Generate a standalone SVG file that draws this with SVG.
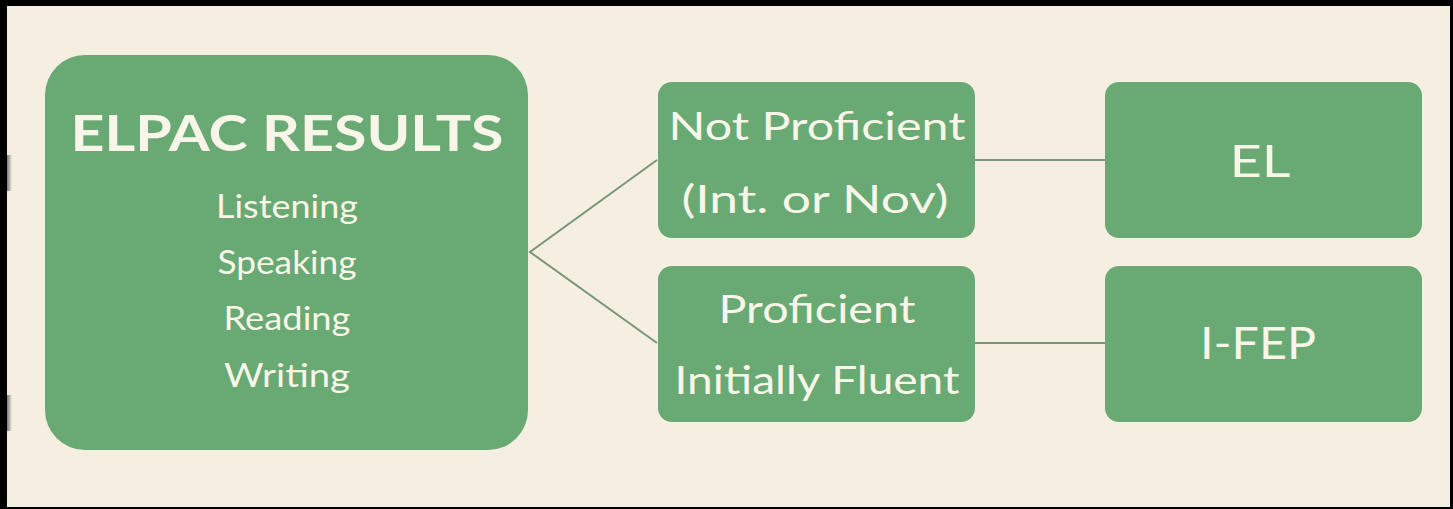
<svg xmlns="http://www.w3.org/2000/svg" width="1453" height="509" viewBox="0 0 1453 509">
  <defs>
    <linearGradient id="smudge" x1="0" y1="0" x2="1" y2="0">
      <stop offset="0" stop-color="#000" stop-opacity="0.5"/>
      <stop offset="1" stop-color="#000" stop-opacity="0"/>
    </linearGradient>
  </defs>
  <style>
    .box { fill: #69a974; }
    .t { fill: #f8f6e8; font-family: Lato, "Open Sans", "Liberation Sans", sans-serif; text-anchor: middle; }
    .title { font-weight: bold; font-size: 49px; }
    .sub { font-size: 33px; }
    .mid { font-size: 39px; }
    .big { font-size: 44px; }
    .conn { stroke: #7a9677; stroke-width: 2; fill: none; }
  </style>
  <rect x="0" y="0" width="1453" height="509" fill="#000"/>
  <rect x="7" y="6" width="1443" height="501" fill="#f5efe1"/>
  <rect x="7" y="155" width="5" height="36" fill="url(#smudge)"/>
  <rect x="7" y="395" width="5" height="36" fill="url(#smudge)"/>

  <g id="connectors">
    <polyline class="conn" points="657,160 530,252 657,343"/>
    <line class="conn" x1="975" y1="160" x2="1105" y2="160"/>
    <line class="conn" x1="975" y1="343" x2="1105" y2="343"/>
  </g>

  <g id="elpac">
    <rect class="box" x="45" y="55" width="483" height="395" rx="40" ry="40"/>
    <text class="t title" x="287" y="151" textLength="433" lengthAdjust="spacingAndGlyphs">ELPAC RESULTS</text>
    <text class="t sub" x="287" y="218" textLength="142" lengthAdjust="spacingAndGlyphs">Listening</text>
    <text class="t sub" x="287" y="274" textLength="139" lengthAdjust="spacingAndGlyphs">Speaking</text>
    <text class="t sub" x="287" y="330" textLength="127" lengthAdjust="spacingAndGlyphs">Reading</text>
    <text class="t sub" x="287" y="387" textLength="126" lengthAdjust="spacingAndGlyphs">Writing</text>
  </g>

  <g id="not-proficient">
    <rect class="box" x="658" y="82" width="317" height="156" rx="14" ry="14"/>
    <text class="t mid" x="817" y="140" textLength="297" lengthAdjust="spacingAndGlyphs">Not Proficient</text>
    <text class="t mid" x="815" y="213" textLength="267" lengthAdjust="spacingAndGlyphs">(Int. or Nov)</text>
  </g>

  <g id="proficient">
    <rect class="box" x="658" y="266" width="317" height="156" rx="14" ry="14"/>
    <text class="t mid" x="817" y="323" textLength="197" lengthAdjust="spacingAndGlyphs">Proficient</text>
    <text class="t mid" x="817" y="394" textLength="285" lengthAdjust="spacingAndGlyphs">Initially Fluent</text>
  </g>

  <g id="el">
    <rect class="box" x="1105" y="82" width="317" height="156" rx="14" ry="14"/>
    <text class="t big" x="1260" y="177" textLength="61" lengthAdjust="spacingAndGlyphs">EL</text>
  </g>

  <g id="ifep">
    <rect class="box" x="1105" y="266" width="317" height="156" rx="14" ry="14"/>
    <text class="t big" x="1258" y="359" textLength="116" lengthAdjust="spacingAndGlyphs">I-FEP</text>
  </g>
</svg>
